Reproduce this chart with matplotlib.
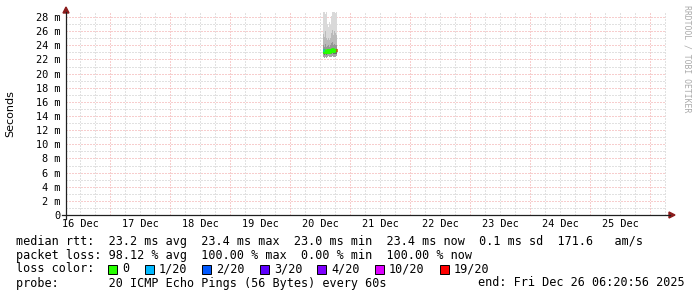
import matplotlib
matplotlib.use("Agg")
import matplotlib.pyplot as plt
from matplotlib.lines import Line2D
from matplotlib.patches import Rectangle, Polygon

# time axis in hours since 16 Dec 00:00
start_h = 6 + 20 / 60 + 56 / 3600      # 16 Dec 06:20:56
end_h = start_h + 240                  # 26 Dec 06:20:56

day_labels = ["16 Dec", "17 Dec", "18 Dec", "19 Dec", "20 Dec",
              "21 Dec", "22 Dec", "23 Dec", "24 Dec", "25 Dec"]
day_label_pos = [12, 36, 60, 84, 108, 132, 156, 180, 204, 228]

y_ticks = [0, 2, 4, 6, 8, 10, 12, 14, 16, 18, 20, 22, 24, 26, 28]
y_labels = ["0", "2 m", "4 m", "6 m", "8 m", "10 m", "12 m", "14 m", "16 m",
            "18 m", "20 m", "22 m", "24 m", "26 m", "28 m"]

# the few hours with answers on 20 Dec (24 min steps), values in ms
t = [109.2, 109.6, 110.0, 110.4, 110.8, 111.2, 111.6, 112.0, 112.4, 112.8,
     113.2, 113.6, 114.0, 114.4]
median = [23.3, 23.1, 23.2, 23.0, 23.3, 23.4, 23.1, 23.2, 23.4, 23.5,
          23.2, 23.4, 23.3, 23.4]
loss = [1, 0, 0, 0, 0, 0, 0, 0, 0, 0, 0, 0, 0, 19]
smoke_min = [22.4, 22.2, 22.3, 22.2, 22.4, 22.5, 22.3, 22.3, 22.4, 22.5,
             22.3, 22.4, 22.3, 22.5]
smoke_p10 = [22.7, 22.6, 22.7, 22.6, 22.8, 22.9, 22.7, 22.7, 22.8, 22.9,
             22.7, 22.8, 22.7, 22.8]
smoke_p25 = [23.0, 22.9, 23.0, 22.8, 23.1, 23.2, 22.9, 23.0, 23.2, 23.2,
             23.0, 23.2, 23.1, 23.2]
smoke_p75 = [24.0, 23.8, 24.2, 23.7, 23.9, 24.1, 23.8, 24.0, 24.3, 24.4,
             24.0, 24.2, 24.1, 24.0]
smoke_p90 = [25.6, 25.2, 26.0, 25.0, 24.8, 25.0, 24.7, 25.1, 25.8, 26.2,
             25.5, 26.0, 25.7, 25.4]
smoke_max = [29.0, 29.0, 28.4, 29.0, 27.0, 26.6, 27.3, 26.8, 28.1, 29.0,
             29.0, 29.0, 28.6, 29.0]

loss_labels = ["0", "1/20", "2/20", "3/20", "4/20", "10/20", "19/20"]
loss_levels = [0, 1, 2, 3, 4, 10, 19]
loss_colors = ["#26ff00", "#00b8ff", "#0059ff", "#5e00ff", "#7e00ff",
               "#dd00ff", "#ff0000"]

line1 = "median rtt:  23.2 ms avg  23.4 ms max  23.0 ms min  23.4 ms now  0.1 ms sd  171.6   am/s"
line2 = "packet loss: 98.12 % avg  100.00 % max  0.00 % min  100.00 % now"
line4 = "probe:       20 ICMP Echo Pings (56 Bytes) every 60s"
end_text = "end: Fri Dec 26 06:20:56 2025"

W, H = 697, 297
fig = plt.figure(figsize=(W / 100, H / 100), dpi=100)
fig.patch.set_facecolor("white")


def fx(px):
    return px / W


def fy(py):
    return 1 - py / H


ax = fig.add_axes([fx(66), fy(215), 600 / W, 203 / H])
ax.set_xlim(start_h, end_h)
ax.set_ylim(0, 203 / (198 / 28))
for s in ax.spines.values():
    s.set_visible(False)

# grid, rrdtool style dotted lines
grid_c = "#c4c4c4"
mgrid_c = "#f19c9c"
dots = (0, (1, 2))
for h in range(0, 264, 6):
    if start_h < h < end_h:
        ax.axvline(h, color=mgrid_c if h % 24 == 0 else grid_c,
                   lw=0.72, ls=dots, zorder=1 if h % 24 else 1.5)
for v in range(1, 29):
    ax.axhline(v, color=mgrid_c if v % 2 == 0 else grid_c,
               lw=0.72, ls=dots, zorder=1 if v % 2 else 1.5)

# smoke
bands = [(smoke_min, smoke_p10, "#a4a4a4"),
         (smoke_p10, smoke_p25, "#6e6e6e"),
         (smoke_p25, smoke_p75, "#969696"),
         (smoke_p75, smoke_p90, "#bababa"),
         (smoke_p90, smoke_max, "#d9d9d9")]
for lo, hi, c in bands:
    ax.bar(t, [b - a for a, b in zip(lo, hi)], bottom=lo, width=0.4,
           align="edge", color=c, linewidth=0, zorder=2)

# median line coloured by loss
t_edges = t + [t[-1] + 0.4]
ax.step(t_edges, median + [median[-1]], where="post",
        color=loss_colors[0], lw=2.2, zorder=3, solid_capstyle="butt")
for ti, m, l in zip(t, median, loss):
    if l > 0:
        idx = max(i for i, lv in enumerate(loss_levels) if lv <= l)
        ax.hlines(m, ti, ti + 0.4, color=loss_colors[idx], lw=2.2, zorder=4)

mono = "DejaVu Sans Mono"
ax.set_yticks(y_ticks, y_labels)
ax.set_xticks(day_label_pos, day_labels)
ax.tick_params(length=0)
ax.tick_params(axis="y", pad=4.3)
ax.tick_params(axis="x", pad=3.0)
for lab in ax.get_xticklabels() + ax.get_yticklabels():
    lab.set_family(mono)
    lab.set_fontsize(7.4)

# axes with arrows
axis_c = "#202020"
arrow_c = "#8b1c1c"
fig.add_artist(Line2D([fx(62), fx(670)], [fy(215), fy(215)], color=axis_c, lw=0.9))
fig.add_artist(Line2D([fx(66), fx(66)], [fy(219), fy(12)], color=axis_c, lw=0.9))
fig.add_artist(Polygon([[fx(669), fy(212)], [fx(675), fy(215)], [fx(669), fy(218)]],
                       closed=True, color=arrow_c))
fig.add_artist(Polygon([[fx(63), fy(13)], [fx(66), fy(7)], [fx(69), fy(13)]],
                       closed=True, color=arrow_c))

fig.text(fx(10), fy(113.5), "Seconds", rotation=90, ha="center", va="center",
         fontsize=8, family="DejaVu Sans")
fig.text(fx(687), fy(5), "RRDTOOL / TOBI OETIKER", rotation=270, ha="center",
         va="top", fontsize=5.9, family=mono, color="#aaaaaa")

# legend area
fs = 8.5
cw = 7.11
x0 = 15.5
fig.text(fx(x0), fy(242), line1, fontsize=fs, family=mono, va="center")
fig.text(fx(x0), fy(255.5), line2, fontsize=fs, family=mono, va="center")
fig.text(fx(x0), fy(269), "loss color:", fontsize=fs, family=mono, va="center")
cur = 13
for lab, c in zip(loss_labels, loss_colors):
    bx = 16 + cur * cw
    fig.add_artist(Rectangle((fx(bx), fy(273.5)), 9 / W, 9 / H, facecolor=c,
                             edgecolor="black", lw=0.7))
    tx = cur + 2.05
    fig.text(fx(x0 + tx * cw), fy(269), lab, fontsize=fs, family=mono, va="center")
    cur = tx + len(lab) + 2.05
fig.text(fx(x0), fy(283), line4, fontsize=fs, family=mono, va="center")
fig.text(fx(x0 + 65 * cw), fy(283), end_text, fontsize=fs, family=mono, va="center")

fig.savefig("out.png", dpi=100)
